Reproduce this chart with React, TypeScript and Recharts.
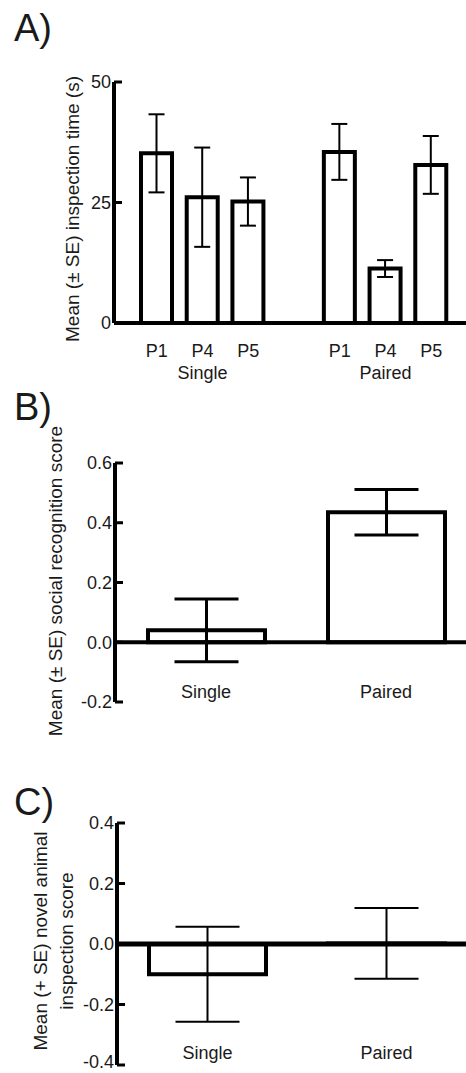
import React from "react";
import { BarChart, Bar, XAxis, YAxis, ErrorBar, ReferenceLine } from "recharts";

// A) inspection time per presentation, single vs paired housing
const inspectionLabels = ["P1", "P4", "P5", "", "P1", "P4", "P5"];
const inspectionGroups = ["", "Single", "", "", "", "Paired", ""];
const inspectionMeans = [35.2, 26.1, 25.2, null, 35.5, 11.3, 32.8];
const inspectionSE = [8.1, 10.3, 5.0, null, 5.8, 1.75, 6.0];
const inspectionTicks = [0, 25, 50];

// B) social recognition score
const housing = ["Single", "Paired"];
const recognitionMeans = [0.04, 0.435];
const recognitionSE = [0.105, 0.076];
const recognitionTicks = [-0.2, 0, 0.2, 0.4, 0.6];

// C) novel animal inspection score (paired mean sits right on zero)
const novelMeans = [-0.1, 0.002];
const novelSE = [0.157, 0.117];
const novelTicks = [-0.4, -0.2, 0, 0.2, 0.4];

const FONT = "Arial, 'Liberation Sans', sans-serif";
const INK = "#1a1a1a";

const inspectionData = inspectionLabels.map((label, i) => ({
  key: `${i}-${label}`,
  mean: inspectionMeans[i],
  se: inspectionSE[i],
}));
const recognitionData = housing.map((name, i) => ({ name, mean: recognitionMeans[i], se: recognitionSE[i] }));
const novelData = housing.map((name, i) => ({ name, mean: novelMeans[i], se: novelSE[i] }));

function InwardTick(props: any) {
  const { x, y, payload, fmt, floor } = props;
  // keep the lowest label inside the page
  const shift = floor !== undefined && payload.value === floor ? -3 : 0;
  return (
    <g>
      <line x1={x} x2={x + 8} y1={y} y2={y} stroke="#000" strokeWidth={3} />
      <text x={x - 3} y={y + shift} dy="0.36em" textAnchor="end" fontSize={18} fill={INK} fontFamily={FONT}>
        {fmt(payload.value)}
      </text>
    </g>
  );
}

function InspectionTick(props: any) {
  const { x, y, index } = props;
  return (
    <g fontFamily={FONT} fontSize={18} fill={INK} textAnchor="middle">
      <text x={x} y={y + 34}>{inspectionLabels[index]}</text>
      {inspectionGroups[index] && <text x={x} y={y + 56}>{inspectionGroups[index]}</text>}
    </g>
  );
}

function GroupTick(props: any) {
  const { x, y, payload, lift } = props;
  return (
    <text x={x} y={y - lift} textAnchor="middle" fontSize={18} fill={INK} fontFamily={FONT}>
      {payload.value}
    </text>
  );
}

function AxisTitle({ lines, xs, cy }: { lines: string[]; xs: number[]; cy: number }) {
  return (
    <g>
      {lines.map((t, i) => (
        <text
          key={i}
          transform={`translate(${xs[i]},${cy}) rotate(-90)`}
          textAnchor="middle"
          fontSize={19}
          fill={INK}
          fontFamily={FONT}
        >
          {t}
        </text>
      ))}
    </g>
  );
}

function PanelLetter({ text, baseline }: { text: string; baseline: number }) {
  return (
    <div
      style={{
        position: "absolute",
        left: 14,
        top: baseline - 32,
        fontSize: 38,
        lineHeight: "38px",
        fontFamily: FONT,
        color: INK,
      }}
    >
      {text}
    </div>
  );
}

const axisLine = { stroke: "#000", strokeWidth: 4 };

export default function App() {
  return (
    <div
      style={{
        position: "absolute",
        left: 0,
        top: 0,
        width: 466,
        height: 1073,
        overflow: "hidden",
        background: "#fff",
      }}
    >
      <PanelLetter text="A)" baseline={41} />
      <PanelLetter text="B)" baseline={420} />
      <PanelLetter text="C)" baseline={815} />

      <div style={{ position: "absolute", left: 0, top: 0 }}>
        <BarChart width={466} height={390} data={inspectionData} margin={{ top: 82, right: 0, bottom: 0, left: 0 }}>
          <XAxis
            dataKey="key"
            height={67}
            interval={0}
            padding={{ left: 20, right: 12 }}
            axisLine={axisLine}
            tickLine={false}
            tickSize={0}
            tickMargin={0}
            tick={(p: any) => <InspectionTick {...p} />}
          />
          <YAxis
            width={114}
            domain={[0, 50]}
            ticks={inspectionTicks}
            interval={0}
            axisLine={axisLine}
            tickLine={false}
            tickSize={0}
            tickMargin={0}
            tick={(p: any) => <InwardTick {...p} fmt={(v: number) => String(v)} />}
            label={<AxisTitle lines={["Mean (± SE) inspection time (s)"]} xs={[79]} cy={209} />}
          />
          <Bar dataKey="mean" barSize={31} fill="#fff" stroke="#000" strokeWidth={4} isAnimationActive={false}>
            <ErrorBar dataKey="se" width={8} stroke="#000" strokeWidth={2} />
          </Bar>
        </BarChart>
      </div>

      <div style={{ position: "absolute", left: 0, top: 380 }}>
        <BarChart width={476} height={372} data={recognitionData} margin={{ top: 83, right: 0, bottom: 0, left: 0 }}>
          <XAxis
            dataKey="name"
            height={50}
            interval={0}
            padding={{ left: 1, right: 0 }}
            axisLine={false}
            tickLine={false}
            tickSize={0}
            tickMargin={0}
            tick={(p: any) => <GroupTick {...p} lift={4} />}
          />
          <YAxis
            width={115}
            domain={[-0.2, 0.6]}
            ticks={recognitionTicks}
            interval={0}
            axisLine={axisLine}
            tickLine={false}
            tickSize={0}
            tickMargin={0}
            tick={(p: any) => <InwardTick {...p} fmt={(v: number) => v.toFixed(1)} />}
            label={<AxisTitle lines={["Mean (± SE) social recognition score"]} xs={[62]} cy={201} />}
          />
          <ReferenceLine y={0} stroke="#000" strokeWidth={4} />
          <Bar dataKey="mean" barSize={117} fill="#fff" stroke="#000" strokeWidth={4} isAnimationActive={false}>
            <ErrorBar dataKey="se" width={32} stroke="#000" strokeWidth={3} />
          </Bar>
        </BarChart>
      </div>

      <div style={{ position: "absolute", left: 0, top: 790 }}>
        <BarChart width={476} height={283} data={novelData} margin={{ top: 33, right: 0, bottom: 0, left: 0 }}>
          <XAxis
            dataKey="name"
            height={8}
            interval={0}
            padding={{ left: 1, right: 0 }}
            axisLine={false}
            tickLine={false}
            tickSize={0}
            tickMargin={0}
            tick={(p: any) => <GroupTick {...p} lift={6} />}
          />
          <YAxis
            width={117}
            domain={[-0.4, 0.4]}
            ticks={novelTicks}
            interval={0}
            axisLine={axisLine}
            tickLine={false}
            tickSize={0}
            tickMargin={0}
            tick={(p: any) => <InwardTick {...p} floor={-0.4} fmt={(v: number) => v.toFixed(1)} />}
            label={
              <AxisTitle lines={["Mean (+ SE) novel animal", "inspection score"]} xs={[47, 73]} cy={151} />
            }
          />
          <ReferenceLine y={0} stroke="#000" strokeWidth={5} />
          <Bar dataKey="mean" barSize={117} fill="#fff" stroke="#000" strokeWidth={4} isAnimationActive={false}>
            <ErrorBar dataKey="se" width={32} stroke="#000" strokeWidth={2} />
          </Bar>
        </BarChart>
      </div>
    </div>
  );
}
